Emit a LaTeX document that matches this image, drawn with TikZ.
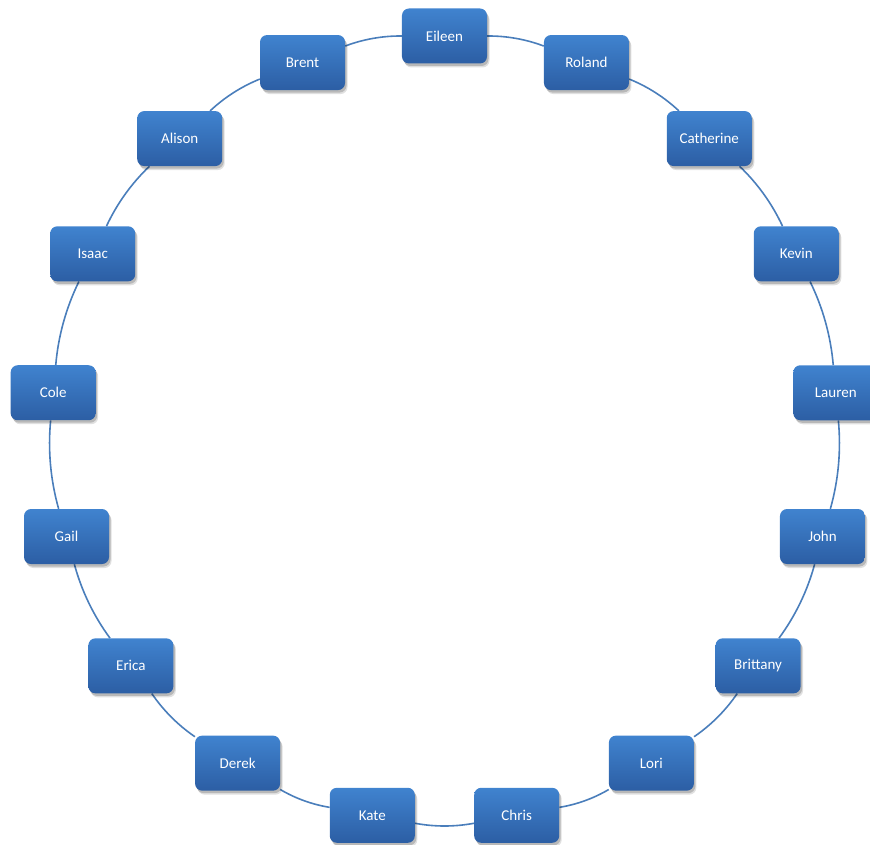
\documentclass[tikz,border=0pt]{standalone}
\usepackage{fontspec}
\newfontfamily\calfont{Carlito}
\usetikzlibrary{shadows,backgrounds}
\definecolor{BoxTop}{HTML}{4083CF}
\definecolor{BoxBot}{HTML}{2C5EA4}
\definecolor{RingBlue}{HTML}{4A7EBB}

\begin{document}
\begin{tikzpicture}[x=1pt,y=1pt,
    person/.style={rounded corners=7pt, minimum width=85pt, minimum height=55pt,
      top color=BoxTop, bottom color=BoxBot, draw=none, text=white,
      font=\calfont\fontsize{15}{18}\selectfont,
      general shadow={shadow xshift=2.5pt, shadow yshift=-4pt, opacity=0.12, fill=black},
      general shadow={shadow xshift=1.5pt, shadow yshift=-2.5pt, opacity=0.18, fill=black}},
    link/.style={color=RingBlue, line width=1.6pt}]
  \useasboundingbox (-444.5,-415) rectangle (425.5,429);
  \clip (-444.5,-415) rectangle (425.5,429);

  % people round the ring, clockwise from the top
  \foreach \name [count=\i from 0] in {Eileen,Roland,Catherine,Kevin,Lauren,John,Brittany,Lori,Chris,Kate,Derek,Erica,Gail,Cole,Isaac,Alison,Brent}
    \node[person] (p\i) at ({90-\i*360/17}:393) {\name};

  % ring segments
  \begin{scope}[on background layer]
    \foreach \i in {0,...,16} {
      \pgfmathtruncatemacro{\j}{mod(\i+1,17)}
      \draw[link] (p\i) to[bend left=10.6, looseness=0.86] (p\j);
    }
  \end{scope}
\end{tikzpicture}
\end{document}
